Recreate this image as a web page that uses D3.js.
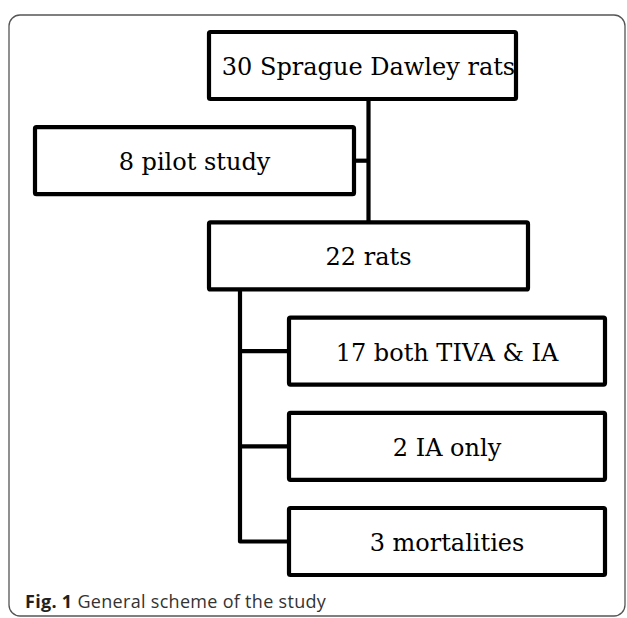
<!DOCTYPE html>
<html>
<head>
<meta charset="utf-8">
<script src="https://cdn.jsdelivr.net/npm/d3@7"></script>
<style>
  body { margin: 0; background: #fff; }
</style>
</head>
<body>
<div id="chart"></div>
<script>
// flowchart content
var labels = ["30 Sprague Dawley rats", "8 pilot study", "22 rats",
              "17 both TIVA & IA", "2 IA only", "3 mortalities"];
var parents = [null, 0, 0, 2, 2, 2];
var steps = [0, 1, 2, 3, 4, 5];
var columns = ["root", "side", "main", "sub", "sub", "sub"];
var captionBold = "Fig. 1";
var captionText = " General scheme of the study";

var width = 627, height = 618;

var svg = d3.select("#chart").append("svg")
  .attr("width", width)
  .attr("height", height);

// outer frame
svg.append("rect")
  .attr("x", 9).attr("y", 15)
  .attr("width", 616).attr("height", 601)
  .attr("rx", 11)
  .attr("fill", "none")
  .attr("stroke", "#555")
  .attr("stroke-width", 1.3);

// scales
var y = d3.scalePoint().domain(steps).range([65.5, 541.5]);
var colLeft = d3.scaleOrdinal().domain(["side", "root", "main", "sub"]).range([35, 209, 209, 289]);
var colWidth = d3.scaleOrdinal().domain(["side", "root", "main", "sub"]).range([319, 307, 319, 316]);
var boxH = 67;

var nodes = labels.map(function(d, i) {
  return {
    label: d, parent: parents[i],
    x: colLeft(columns[i]), w: colWidth(columns[i]),
    cy: y(steps[i])
  };
});

var lineG = svg.append("g")
  .attr("fill", "none")
  .attr("stroke", "#000")
  .attr("stroke-width", 4.2)
  .attr("stroke-linejoin", "round");

// root trunk falls straight onto the centre of the main child
var root = nodes[0];
var main = nodes.filter(function(d, i) { return columns[i] === "main"; })[0];
var rootX = main.x + main.w / 2;
lineG.append("line")
  .attr("x1", rootX).attr("y1", root.cy + boxH / 2)
  .attr("x2", rootX).attr("y2", main.cy - boxH / 2);

nodes.forEach(function(d, i) {
  if (d.parent === 0 && columns[i] === "side") {
    lineG.append("line")
      .attr("x1", d.x + d.w).attr("y1", d.cy)
      .attr("x2", rootX).attr("y2", d.cy);
  }
});

// branches from the main box
var kids = nodes.filter(function(d) { return d.parent === 2; });
var trunkX = main.x + 31;
var lastY = d3.max(kids, function(d) { return d.cy; });
lineG.append("path")
  .attr("d", "M" + trunkX + "," + (main.cy + boxH / 2) + "V" + lastY + "H" + kids[kids.length - 1].x);
kids.slice(0, -1).forEach(function(d) {
  lineG.append("line")
    .attr("x1", trunkX).attr("y1", d.cy)
    .attr("x2", d.x).attr("y2", d.cy);
});

// boxes
var box = svg.selectAll("g.box")
  .data(nodes)
  .enter().append("g")
  .attr("class", "box");

box.append("rect")
  .attr("x", function(d) { return d.x; })
  .attr("y", function(d) { return d.cy - boxH / 2; })
  .attr("width", function(d) { return d.w; })
  .attr("height", boxH)
  .attr("rx", 1.5)
  .attr("fill", "#fff")
  .attr("stroke", "#000")
  .attr("stroke-width", 4.2);

box.append("text")
  .attr("x", function(d, i) { return i === 0 ? rootX : d.x + d.w / 2; })
  .attr("y", function(d) { return d.cy + 9.5; })
  .attr("text-anchor", "middle")
  .attr("font-family", "'DejaVu Serif', serif")
  .attr("font-size", 24)
  .attr("fill", "#000")
  .text(function(d) { return d.label; });

// caption
var cap = svg.append("text")
  .attr("x", 25).attr("y", 608)
  .attr("font-family", "'Open Sans', sans-serif")
  .attr("font-size", 18)
  .attr("letter-spacing", 0.3)
  .attr("fill", "#231f20");
cap.append("tspan").attr("font-weight", "bold").text(captionBold);
cap.append("tspan").attr("fill", "#333").text(captionText);
</script>
</body>
</html>
